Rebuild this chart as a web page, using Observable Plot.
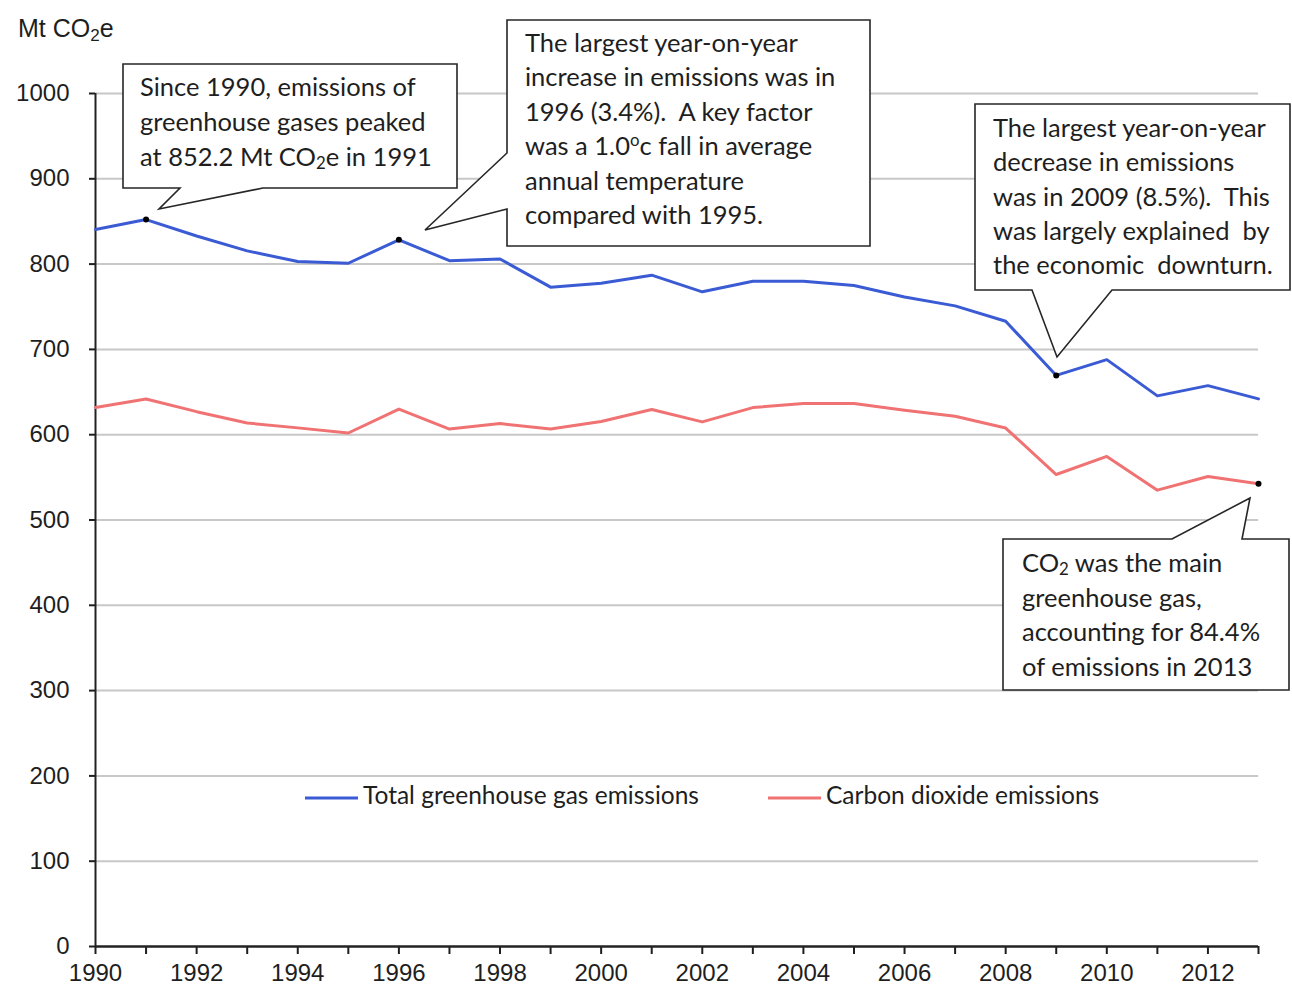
<!DOCTYPE html>
<html>
<head>
<meta charset="utf-8">
<script src="https://cdn.jsdelivr.net/npm/d3@7"></script>
<script src="https://cdn.jsdelivr.net/npm/@observablehq/plot@0.6"></script>
<style>
  html, body { margin: 0; padding: 0; background: #fff; }
  #chart svg { display: block; }
</style>
</head>
<body>
<div id="chart"></div>
<script>
// ---- Data ----
const years = [1990, 1991, 1992, 1993, 1994, 1995, 1996, 1997, 1998, 1999, 2000, 2001,
               2002, 2003, 2004, 2005, 2006, 2007, 2008, 2009, 2010, 2011, 2012, 2013];
const totalGHG = [840.6, 852.2, 833, 815.5, 803, 801, 828.5, 804, 806, 773, 777.5, 787,
                  767.5, 780, 780, 775, 761.5, 751, 733, 669.5, 688, 645.5, 657.5, 642];
const co2 = [632, 641.8, 627, 613.7, 608, 602, 630, 606.6, 613, 606.6, 615.5, 629.5,
             615, 631.8, 636.5, 636.5, 628.6, 621.6, 607.8, 553.3, 574.5, 535, 551, 542.4];
const seriesNames = ["Total greenhouse gas emissions", "Carbon dioxide emissions"];
const yTicks = [0, 100, 200, 300, 400, 500, 600, 700, 800, 900, 1000];
const xLabelYears = [1990, 1992, 1994, 1996, 1998, 2000, 2002, 2004, 2006, 2008, 2010, 2012];
const highlightTotalYears = [1991, 1996, 2009];
const highlightCO2Years = [2013];

const note1 = ["Since 1990, emissions of", "greenhouse gases peaked", "at 852.2 Mt CO_2_e in 1991"];
const note2 = ["The largest year-on-year", "increase in emissions was in", "1996 (3.4%).  A key factor",
               "was a 1.0^o^c fall in average", "annual temperature", "compared with 1995."];
const note3 = ["The largest year-on-year", "decrease in emissions", "was in 2009 (8.5%).  This",
               "was largely explained  by", "the economic  downturn."];
const note4 = ["CO_2_ was the main", "greenhouse gas,", "accounting for 84.4%", "of emissions in 2013"];

// ---- Build tables ----
const totalRows = years.map((y, i) => ({year: y, value: totalGHG[i]}));
const co2Rows = years.map((y, i) => ({year: y, value: co2[i]}));
const dots = [
  ...totalRows.filter(d => highlightTotalYears.includes(d.year)),
  ...co2Rows.filter(d => highlightCO2Years.includes(d.year))
];

const BLUE = "#3a5bd3";
const RED = "#f07272";
const TEXT = "#1e1e1e";
const NOTE_FONT = "Lato, 'Open Sans', sans-serif";
const NOTE_SIZE = 25.5;

function addRichText(g, str, x, y, size) {
  const t = g.append("text")
    .attr("x", x).attr("y", y)
    .attr("text-anchor", "start")
    .attr("dominant-baseline", "middle")
    .attr("font-family", NOTE_FONT)
    .attr("font-size", size)
    .attr("fill", TEXT)
    .attr("xml:space", "preserve")
    .style("white-space", "pre");
  const parts = str.split(/(_[^_]+_|\^[^^]+\^)/).filter(s => s.length);
  for (const p of parts) {
    if (p.startsWith("_") && p.endsWith("_")) {
      t.append("tspan").attr("baseline-shift", "-30%").attr("font-size", size * 0.66).text(p.slice(1, -1));
    } else if (p.startsWith("^") && p.endsWith("^")) {
      t.append("tspan").attr("baseline-shift", "45%").attr("font-size", size * 0.66).text(p.slice(1, -1));
    } else {
      t.append("tspan").text(p);
    }
  }
  return t;
}

function callout(g, pathPts, lines, tx, ty0, dy, size) {
  g.append("path")
    .attr("d", "M" + pathPts.map(p => p.join(",")).join("L") + "Z")
    .attr("fill", "#fff")
    .attr("stroke", "#262626")
    .attr("stroke-width", 1.6)
    .attr("stroke-linejoin", "miter");
  lines.forEach((s, i) => addRichText(g, s, tx, ty0 + i * dy, size));
}

function annotations() {
  const g = d3.create("svg:g").attr("text-anchor", "start");
  // Note 1 (peak 1991), pointer on bottom edge
  callout(g, [[123, 64], [457, 64], [457, 188], [263, 188], [159, 209], [180, 188], [123, 188]],
          note1, 140, 90, 34.8, NOTE_SIZE);
  // Note 2 (1996), pointer on left edge
  callout(g, [[507, 20], [870, 20], [870, 246], [507, 246], [507, 209], [425, 230], [507, 153]],
          note2, 525, 46, 34.4, NOTE_SIZE);
  // Note 3 (2009), pointer on bottom edge
  callout(g, [[975, 104], [1290, 104], [1290, 290], [1112, 290], [1057, 357], [1032, 290], [975, 290]],
          note3, 993, 131, 34.3, NOTE_SIZE);
  // Note 4 (CO2 2013), pointer on top edge
  callout(g, [[1003, 539], [1172, 539], [1250, 498], [1242, 539], [1289, 539], [1289, 690], [1003, 690]],
          note4, 1022, 566, 34.5, NOTE_SIZE);

  // Legend
  const leg = [{x: 305, name: seriesNames[0], c: BLUE}, {x: 768, name: seriesNames[1], c: RED}];
  for (const l of leg) {
    g.append("line").attr("x1", l.x).attr("x2", l.x + 53).attr("y1", 798).attr("y2", 798)
      .attr("stroke", l.c).attr("stroke-width", 3);
    g.append("text").attr("x", l.x + 58).attr("y", 798)
      .attr("text-anchor", "start").attr("dominant-baseline", "middle")
      .attr("font-family", NOTE_FONT).attr("font-size", 24.5).attr("fill", TEXT).text(l.name);
  }

  // Y unit label
  const u = g.append("text").attr("x", 18).attr("y", 37).attr("text-anchor", "start")
    .attr("font-family", "'Liberation Sans', Arial, sans-serif").attr("font-size", 25).attr("fill", TEXT);
  u.append("tspan").text("Mt CO");
  u.append("tspan").attr("baseline-shift", "-25%").attr("font-size", 17).text("2");
  u.append("tspan").text("e");
  return g.node();
}

const chart = Plot.plot({
  width: 1292,
  height: 985,
  marginLeft: 95,
  marginRight: 34,
  marginTop: 93,
  marginBottom: 39,
  x: {domain: [1990, 2013]},
  y: {domain: [0, 1000]},
  style: {
    fontFamily: "'Liberation Sans', Arial, sans-serif",
    fontSize: "24px",
    color: TEXT,
    background: "#fff",
    overflow: "visible"
  },
  marks: [
    Plot.ruleY(yTicks.filter(d => d > 0), {stroke: "#c8c8c8", strokeWidth: 2}),
    Plot.axisY({ticks: yTicks, tickSize: 6, tickPadding: 20, tickFormat: d => String(d),
                label: null, fontSize: 24, strokeWidth: 2}),
    Plot.axisX({ticks: years, tickSize: 8, tickPadding: 9,
                tickFormat: d => xLabelYears.includes(d) ? String(d) : "",
                label: null, fontSize: 24, strokeWidth: 2}),
    Plot.ruleX([1990], {stroke: "#222", strokeWidth: 2}),
    Plot.ruleY([0], {stroke: "#222", strokeWidth: 2.5}),
    Plot.line(co2Rows, {x: "year", y: "value", stroke: RED, strokeWidth: 3}),
    Plot.line(totalRows, {x: "year", y: "value", stroke: BLUE, strokeWidth: 3}),
    Plot.dot(dots, {x: "year", y: "value", r: 3, fill: "#000"}),
    annotations
  ]
});
document.getElementById("chart").appendChild(chart);
</script>
</body>
</html>
